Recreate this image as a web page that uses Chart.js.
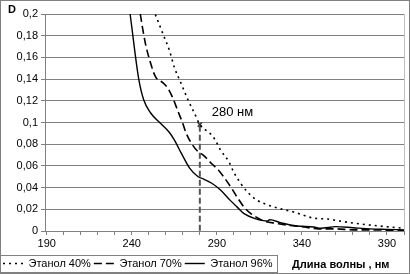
<!DOCTYPE html>
<html lang="ru">
<head>
<meta charset="UTF-8">
<script src="https://cdn.jsdelivr.net/npm/chart.js"></script>
<title>Спектры</title>
<style>
  body { margin: 0; background: #fff; }
  #wrap { width: 410px; height: 274px; }
</style>
</head>
<body>
<div id="wrap"><canvas id="grafico" width="410" height="274"></canvas></div>
<script>
// данные
const nm40 = [250, 254, 259, 262, 265, 269, 273, 277, 280, 286, 289, 292, 297, 300, 304, 308, 314, 320, 326, 335, 341, 347, 355, 361, 371, 381, 400];
const d40  = [0.215, 0.199, 0.179, 0.167, 0.151, 0.136, 0.121, 0.108, 0.098, 0.090, 0.084, 0.075, 0.064, 0.054, 0.044, 0.036, 0.028, 0.024, 0.021, 0.0176, 0.0145, 0.0118, 0.011, 0.0095, 0.0071, 0.0053, 0.0025];

const nm70 = [243, 245, 248, 251, 254, 258, 261, 264, 267, 270, 272, 275, 279, 282, 287, 291, 294, 298, 302, 306, 310, 314, 318, 325, 333, 340, 350, 360, 370, 380, 390, 400];
const d70  = [0.222, 0.2, 0.173, 0.155, 0.142, 0.137, 0.132, 0.123, 0.111, 0.099, 0.090, 0.081, 0.073, 0.070, 0.062, 0.056, 0.050, 0.041, 0.031, 0.022, 0.016, 0.012, 0.009, 0.007, 0.005, 0.004, 0.002, 0.002, 0.001, 0.001, 0.0008, 0.0005];

const nm96 = [236, 239, 244, 247, 251, 257, 262, 265, 269, 274, 279, 282, 287, 292, 298, 302, 306, 312, 320, 321, 328, 337, 347, 351, 360, 370, 380, 390, 400];
const d96  = [0.232, 0.2, 0.141, 0.121, 0.109, 0.099, 0.091, 0.084, 0.072, 0.058, 0.050, 0.048, 0.044, 0.038, 0.028, 0.022, 0.016, 0.0117, 0.0092, 0.0105, 0.0074, 0.0046, 0.0037, 0.0025, 0.004, 0.003, 0.002, 0.0015, 0.001];

const nomes = ["Этанол 40%", "Этанол 70%", "Этанол 96%"];
const marcaNm = [280, 280];
const marcaD  = [0.097, 0];
const pontoNm = [280];
const pontoD  = [0.098];
const rotulo280 = "280 нм";
const tituloX = "Длина волны , нм";
const tituloY = "D";
const xMarcas = [190, 240, 290, 340, 390];

function pares(xs, ys) {
  return xs.map((x, i) => ({ x: x, y: ys[i] }));
}

Chart.defaults.font.family = "'Liberation Sans', Arial, sans-serif";
Chart.defaults.font.size = 11;
Chart.defaults.color = "#000";

// textos, moldura da legenda e borda externa
const extras = {
  id: "extras",
  afterDraw(chart) {
    const ctx = chart.ctx;
    const a = chart.chartArea;
    const sx = chart.scales.x, sy = chart.scales.y;
    ctx.save();
    // borda direita da área do gráfico
    ctx.strokeStyle = "#c0c0c0";
    ctx.lineWidth = 1;
    ctx.beginPath();
    ctx.moveTo(Math.round(a.right) + 0.5, a.top);
    ctx.lineTo(Math.round(a.right) + 0.5, a.bottom);
    ctx.stroke();

    ctx.fillStyle = "#000";
    ctx.font = "bold 11px 'Liberation Sans', Arial, sans-serif";
    ctx.textBaseline = "middle";
    ctx.textAlign = "left";
    ctx.fillText(tituloY, 8, 10);

    ctx.font = "13px 'Liberation Sans', Arial, sans-serif";
    ctx.fillText(rotulo280, sx.getPixelForValue(287), sy.getPixelForValue(0.109));

    // moldura da legenda
    const lg = chart.legend;
    const boxes = lg.legendHitBoxes;
    const ult = boxes[boxes.length - 1];
    const dir = ult.left + ult.width + 4;
    ctx.strokeStyle = "#808080";
    ctx.strokeRect(0.5, Math.round(lg.top) + 0.5, Math.round(dir), Math.round(lg.height) - 2);

    ctx.font = "bold 11px 'Liberation Sans', Arial, sans-serif";
    ctx.fillText(tituloX, 292, lg.top + 9.5);

    // borda externa
    ctx.strokeStyle = "#808080";
    ctx.strokeRect(0.5, 0.5, chart.width - 1, chart.height - 1);
    ctx.restore();
  }
};

new Chart(document.getElementById("grafico"), {
  type: "line",
  data: {
    datasets: [
      { label: nomes[0], data: pares(nm40, d40), borderColor: "#000", borderWidth: 1.6, borderDash: [2, 4], pointRadius: 0, cubicInterpolationMode: "monotone", clip: 0 },
      { label: nomes[1], data: pares(nm70, d70), borderColor: "#000", borderWidth: 1.6, borderDash: [8, 4], pointRadius: 0, cubicInterpolationMode: "monotone", clip: 0 },
      { label: nomes[2], data: pares(nm96, d96), borderColor: "#000", borderWidth: 1.4, pointRadius: 0, cubicInterpolationMode: "monotone", clip: 0 },
      { label: "280", data: pares(marcaNm, marcaD), borderColor: "#555", borderWidth: 2, borderDash: [6, 3], pointRadius: 0 },
      { label: "p", data: pares(pontoNm, pontoD), showLine: false, pointStyle: "crossRot", pointRadius: 3, pointBorderWidth: 1.5, pointBorderColor: "#333" }
    ]
  },
  options: {
    responsive: false,
    devicePixelRatio: 1,
    animation: false,
    layout: { padding: { top: 14, right: 6, left: 0, bottom: 0 } },
    plugins: {
      tooltip: { enabled: false },
      legend: {
        position: "bottom",
        align: "start",
        maxHeight: 19,
        labels: {
          usePointStyle: true,
          pointStyleWidth: 20,
          boxHeight: 8,
          padding: 3,
          font: { size: 11 },
          generateLabels: (chart) => chart.data.datasets.slice(0, 3).map((ds, i) => ({
            text: ds.label,
            strokeStyle: ds.borderColor,
            fillStyle: ds.borderColor,
            lineWidth: ds.borderWidth,
            lineDash: ds.borderDash || [],
            lineCap: "butt",
            pointStyle: "line",
            hidden: false,
            datasetIndex: i
          }))
        }
      }
    },
    scales: {
      x: {
        type: "linear",
        min: 189,
        max: 400,
        afterBuildTicks: (s) => {
          const t = [];
          for (let v = 190; v <= 400; v += 10) t.push({ value: v });
          s.ticks = t;
        },
        afterFit: (s) => { s.height = 24; },
        ticks: {
          autoSkip: false,
          maxRotation: 0,
          padding: 2,
          callback: (v) => (xMarcas.includes(v) ? String(v) : "")
        },
        grid: { drawOnChartArea: false, drawTicks: true, tickLength: 4, color: "#808080" },
        border: { color: "#808080" }
      },
      y: {
        min: 0,
        max: 0.2,
        afterFit: (s) => { s.width = 45; },
        ticks: {
          stepSize: 0.02,
          padding: 3,
          callback: (v) => String(parseFloat(v.toFixed(2))).replace(".", ",")
        },
        grid: { color: "#808080", tickLength: 4 },
        border: { color: "#808080" }
      }
    }
  },
  plugins: [extras]
});
</script>
</body>
</html>
